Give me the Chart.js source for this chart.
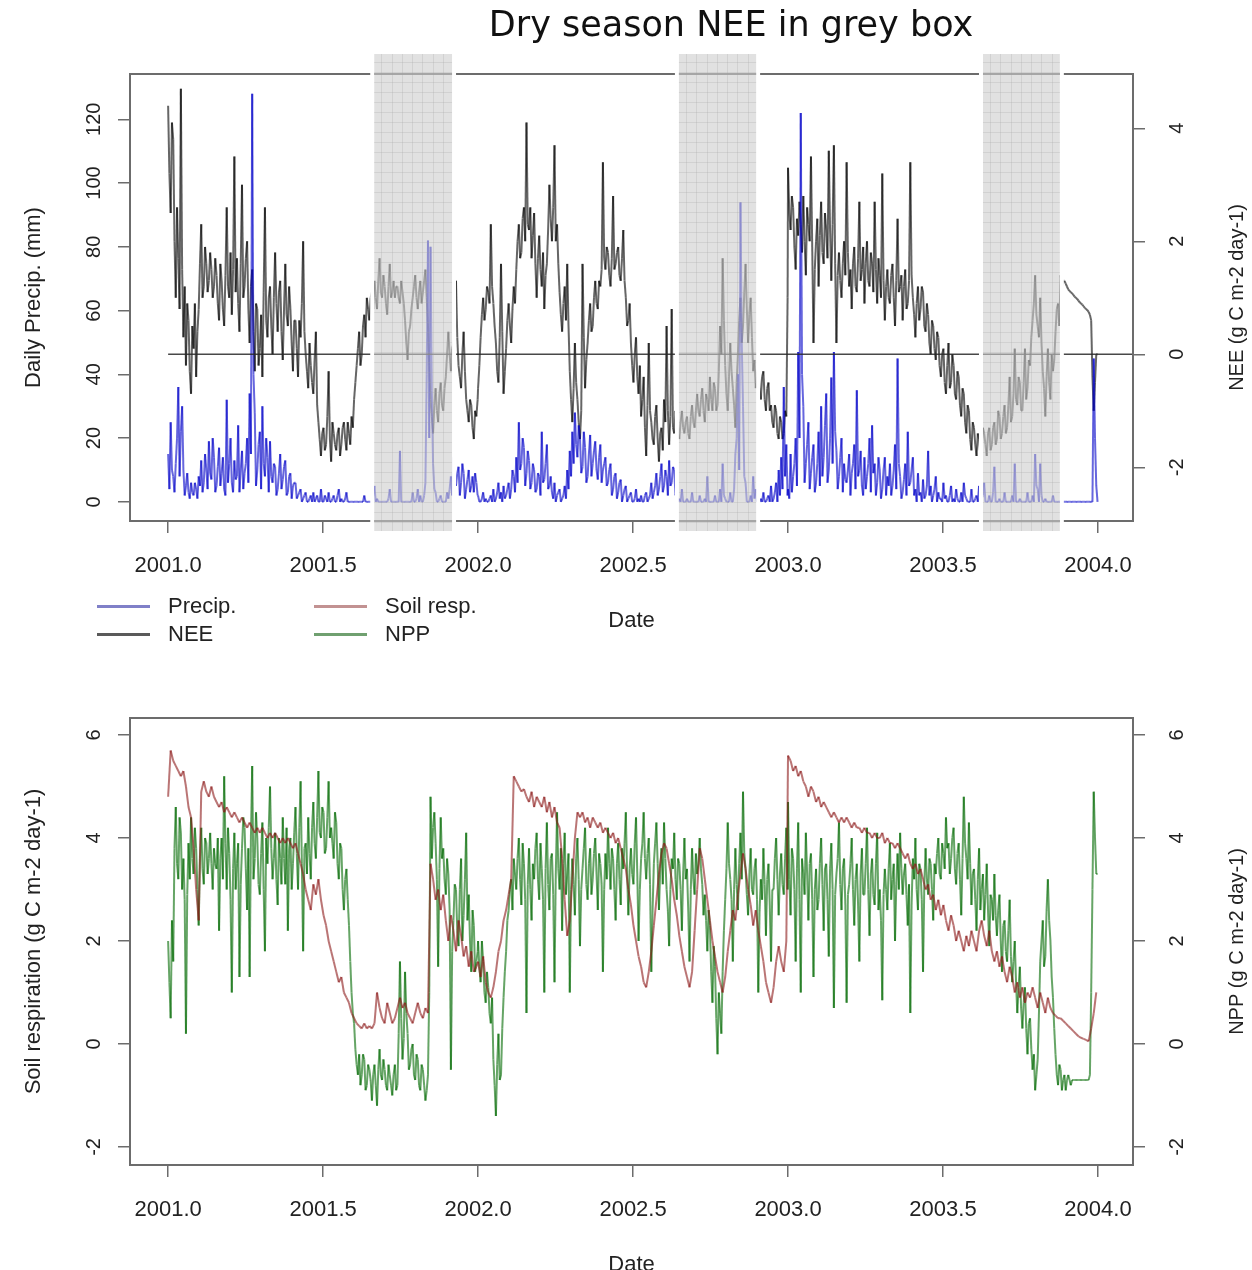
<!DOCTYPE html>
<html>
<head>
<meta charset="utf-8">
<title>Dry season NEE</title>
<script src="https://cdn.jsdelivr.net/npm/chart.js@4.4.1/dist/chart.umd.min.js"></script>
<style>
  html, body { margin: 0; padding: 0; background: #fff; width: 1252px; height: 1270px; overflow: hidden; }
  canvas { position: absolute; left: 0; }
  #topChart { top: 0; }
  #bottomChart { top: 660px; }
  #title {
    position: absolute; left: 431px; top: 4px; width: 600px; text-align: center;
    font: 35px "DejaVu Sans", Verdana, sans-serif; line-height: 40px; color: #111; z-index: 2;
  }
  .leg { position: absolute; font: 22px "Liberation Sans", Arial, sans-serif; color: #222; line-height: 26px; }
  .legLine { position: absolute; width: 53px; height: 3px; }
</style>
</head>
<body>
<div id="title">Dry season NEE in grey box</div>
<canvas id="topChart" width="1252" height="660"></canvas>
<canvas id="bottomChart" width="1252" height="644"></canvas>

<div class="legLine" style="left:97px; top:605px; background:#8080c8"></div>
<div class="leg" style="left:168px; top:593px">Precip.</div>
<div class="legLine" style="left:97px; top:633px; background:#5a5a5a"></div>
<div class="leg" style="left:168px; top:621px">NEE</div>
<div class="legLine" style="left:314px; top:605px; background:#c29292"></div>
<div class="leg" style="left:385px; top:593px">Soil resp.</div>
<div class="legLine" style="left:314px; top:633px; background:#70a070"></div>
<div class="leg" style="left:385px; top:621px">NPP</div>

<script>
// main values every 3 days (one array per year); "Mid" arrays hold the value read
// halfway between two main values, for the noisy daily series
const stepDays = 3;

const precip2001 = [15, 25, 8, 12, 36, 22, 10, 5, 3, 6,
  2, 4, 8, 13, 6, 10, 19, 7, 14, 5,
  17, 9, 4, 32, 12, 6, 13, 8, 3, 16,
  9, 20, 34, 128, 28, 10, 22, 30, 8, 14,
  19, 6, 11, 4, 15, 7, 13, 3, 9, 5,
  6, 2, 4, 1, 3, 0, 2, 3, 1, 0,
  4, 0, 1, 3, 0, 2, 0, 4, 1, 0,
  3, 0, 0, 0, 0, 0, 0, 2, 0, 0,
  0, 5, 1, 0, 0, 0, 0, 4, 0, 0,
  0, 16, 0, 0, 0, 0, 3, 0, 4, 2,
  0, 6, 82, 80, 12, 3, 0, 2, 0, 0,
  1, 8, 14, 5, 11, 6, 9, 4, 10, 5,
  3, 6];
const precipMid2001 = [4, 10, 3, 20, 8, 30, 2, 9, 1, 3,
  6, 1, 5, 3, 15, 4, 9, 20, 3, 11,
  5, 14, 2, 6, 20, 3, 7, 24, 10, 4,
  12, 6, 15, 40, 5, 18, 4, 12, 20, 3,
  8, 12, 2, 9, 4, 11, 2, 8, 1, 6,
  1, 3, 0, 2, 0, 1, 0, 0, 2, 0,
  0, 2, 0, 0, 1, 0, 2, 0, 0, 1,
  0, 0, 0, 0, 0, 0, 0, 0, 0, 0,
  2, 0, 0, 0, 0, 0, 1, 0, 0, 0,
  0, 0, 0, 0, 0, 0, 0, 1, 0, 0,
  2, 40, 20, 35, 4, 0, 1, 0, 0, 3,
  4, 2, 6, 9, 2, 12, 1, 7, 3, 8,
  9, 2];
const precip2002 = [2, 0, 3, 1, 0, 2, 4, 1, 6, 3,
  5, 2, 6, 4, 8, 14, 25, 12, 17, 9,
  13, 6, 10, 4, 8, 22, 7, 18, 5, 3,
  6, 2, 4, 1, 5, 10, 16, 22, 28, 14,
  20, 11, 17, 8, 21, 12, 19, 7, 18, 10,
  14, 6, 12, 4, 9, 3, 7, 2, 5, 1,
  3, 0, 4, 1, 2, 0, 3, 1, 6, 3,
  9, 4, 12, 5, 8, 13, 6, 10, 3, 1,
  4, 0, 1, 0, 3, 0, 0, 2, 0, 1,
  8, 0, 0, 2, 0, 4, 12, 1, 0, 3,
  0, 15, 40, 94, 30, 6, 0, 2, 8, 4,
  2, 1, 3, 0, 2, 5, 1, 6, 10, 14,
  36, 18];
const precipMid2002 = [0, 1, 0, 0, 1, 0, 0, 3, 1, 0,
  1, 4, 1, 10, 3, 6, 10, 20, 5, 16,
  4, 12, 3, 9, 2, 6, 12, 4, 8, 1,
  0, 3, 0, 2, 1, 4, 8, 12, 18, 24,
  9, 22, 6, 15, 8, 16, 10, 14, 6, 12,
  5, 10, 2, 8, 1, 6, 0, 4, 0, 2,
  0, 1, 0, 0, 0, 2, 0, 2, 1, 5,
  2, 8, 3, 10, 2, 5, 11, 2, 0, 0,
  0, 0, 0, 0, 0, 0, 0, 0, 0, 0,
  0, 0, 0, 0, 0, 0, 2, 0, 0, 0,
  4, 20, 10, 50, 8, 0, 0, 0, 1, 0,
  0, 0, 0, 1, 0, 0, 3, 0, 2, 4,
  8, 2];
const precip2003 = [4, 15, 8, 20, 47, 122, 30, 12, 25, 9,
  18, 6, 22, 30, 14, 34, 10, 39, 47, 16,
  8, 20, 12, 6, 15, 9, 18, 35, 10, 5,
  14, 8, 20, 24, 12, 6, 10, 4, 14, 8,
  12, 5, 18, 45, 8, 3, 12, 22, 6, 14,
  4, 9, 3, 7, 2, 16, 5, 2, 8, 3,
  1, 6, 2, 0, 5, 1, 4, 0, 3, 6,
  1, 0, 4, 0, 2, 5, 1, 6, 0, 2,
  0, 11, 0, 1, 0, 3, 0, 0, 2, 12,
  0, 1, 0, 0, 3, 0, 2, 15, 4, 12,
  0, 1, 0, 0, 2, 0, 0, 0, 0, 0,
  0, 0, 0, 0, 0, 0, 0, 0, 0, 0,
  45, 5];
const precipMid2003 = [1, 3, 12, 5, 20, 40, 6, 18, 4, 14,
  3, 12, 5, 8, 24, 6, 20, 12, 22, 4,
  14, 3, 7, 10, 2, 12, 4, 8, 16, 2,
  4, 12, 3, 9, 2, 14, 1, 10, 2, 5,
  2, 10, 4, 12, 1, 7, 2, 5, 10, 2,
  0, 2, 0, 1, 5, 2, 0, 4, 0, 1,
  0, 1, 0, 2, 0, 0, 1, 0, 0, 2,
  0, 0, 0, 1, 0, 0, 2, 0, 0, 0,
  3, 0, 0, 0, 0, 0, 0, 0, 0, 0,
  0, 0, 0, 0, 0, 0, 0, 5, 0, 2,
  0, 0, 0, 0, 0, 0, 0, 0, 0, 0,
  0, 0, 0, 0, 0, 0, 0, 0, 0, 0,
  20, 0];

const nee2001 = [4.4, 2.5, 3.8, 1.0, 1.7, 4.7, 0.3, -0.2, 0.6, -0.7,
  0.1, -0.4, 0.8, 2.3, 1.2, 1.6, 1.3, 1.5, 1.2, 1.4,
  0.6, 1.3, 0.5, 2.6, 1.0, 0.7, 3.5, 1.7, 0.4, 3.0,
  1.2, 2.0, 0.2, 1.5, -0.3, 0.8, 0.1, -0.4, 2.6, 0.3,
  1.2, 0.0, 1.8, 0.4, 1.3, -0.1, 1.6, 0.5, 0.8, -0.3,
  0.6, -0.4, 0.3, 2.0, 0.0, -0.6, -0.2, -0.7, 0.4, -1.2,
  -1.8, -1.3, -1.6, -0.3, -1.9, -1.4, -1.7, -1.3, -1.6, -1.2,
  -1.7, -1.4, -1.1, -0.8, -0.2, 0.4, 0.0, 0.7, 1.0, 0.6,
  1.1, 1.3, 0.8, 1.7, 1.0, 1.2, 0.7, 1.6, 1.1, 1.0,
  1.2, 0.9, 1.1, 0.6, -0.1, 0.5, 1.0, 1.4, 0.8, 1.3,
  1.1, 1.5, 0.5, -0.8, -1.4, -0.6, -1.2, -0.5, -1.0, -0.4,
  0.4, -0.3, 0.2, 1.3, -0.2, -0.6, 0.4, -0.8, -1.2, -0.9,
  -1.5, -1.1];
const neeMid2001 = [3.2, 4.1, 2.0, 2.6, 0.8, 1.5, 1.2, 0.9, -0.3, 0.5,
  0.9, 0.4, 1.6, 1.0, 1.9, 1.1, 1.8, 1.0, 1.7, 0.9,
  1.6, 0.8, 1.4, 1.2, 1.8, 1.5, 1.1, 0.9, 1.6, 1.0,
  1.7, 0.8, 1.2, 0.4, 0.9, -0.2, 0.7, 1.1, 0.6, 1.0,
  0.5, 1.0, 0.9, 1.1, 0.4, 0.8, 0.7, 1.2, 0.2, 0.6,
  0.1, 0.6, 0.9, 0.4, -0.3, 0.2, -0.5, -0.1, -0.9, -1.5,
  -1.4, -1.7, -1.1, -1.5, -1.2, -1.6, -1.4, -1.8, -1.3, -1.5,
  -1.2, -1.6, -1.3, -0.5, 0.1, -0.2, 0.5, 0.3, 0.8, 1.0,
  0.8, 1.0, 1.3, 1.1, 1.4, 0.9, 1.2, 1.0, 1.3, 1.2,
  1.0, 1.3, 0.9, 0.2, 0.4, 0.8, 1.2, 1.0, 1.1, 0.9,
  1.3, 1.0, -0.2, -1.1, -0.9, -1.0, -0.7, -0.9, -0.6, 0.0,
  0.0, 0.1, 0.5, 0.3, -0.4, 0.0, -0.3, -1.0, -0.8, -1.3,
  -1.0, -0.8];
const nee2002 = [-0.6, 0.3, 1.0, 0.8, 1.1, 2.3, 0.9, 0.2, -0.5, 1.6,
  -0.7, 0.1, 0.9, 0.2, 1.2, 1.5, 2.3, 1.8, 2.6, 4.1,
  2.2, 1.7, 2.5, 1.0, 2.1, 1.2, 0.8, 1.6, 3.0, 2.0,
  3.7, 2.3, 1.1, 0.4, 1.2, 1.6, -0.3, -1.2, 0.2, -0.8,
  -1.5, 1.6, -0.6, 0.2, 0.9, 0.5, 1.3, 0.8, 1.2, 3.4,
  1.5, 1.8, 1.2, 2.8, 1.6, 1.9, 1.3, 2.2, 1.0, 0.6,
  0.2, -0.5, 0.3, -0.7, -1.1, -0.4, -1.8, 0.2, -1.2, -1.6,
  -0.9, -1.9, -1.3, -0.8, 0.5, -1.6, 0.8, -1.4, -1.2, -1.5,
  -1.0, -1.4, -1.1, -1.5, -0.9, -1.3, -0.7, -1.1, -0.6, -1.2,
  -0.8, -0.4, -1.0, -0.6, -0.9, 0.5, 1.7, -0.2, -1.0, 0.2,
  -0.6, -1.3, 0.0, 1.0, 0.5, 1.6, 0.2, 1.0, -0.3, -0.6,
  -0.2, -0.8, -0.3, -1.0, -0.5, -0.9, -1.3, -1.0, -1.5, -1.2,
  -1.4, -1.1];
const neeMid2002 = [-0.2, 0.7, 0.6, 1.2, 0.9, 1.2, 0.5, -0.3, 0.3, 0.4,
  -0.3, 0.6, 0.5, 0.8, 0.9, 2.0, 1.7, 2.4, 2.0, 2.3,
  2.6, 2.1, 1.6, 1.7, 1.5, 1.8, 1.4, 2.2, 2.4, 2.6,
  2.0, 1.6, 0.7, 0.9, 0.6, 0.5, -0.8, -0.6, -0.5, -1.2,
  -1.0, 0.3, -0.1, 0.6, 0.4, 1.0, 0.9, 1.3, 1.5, 1.7,
  1.9, 1.4, 1.7, 1.5, 1.8, 1.4, 1.7, 1.3, 0.5, 0.9,
  -0.2, 0.0, -0.4, -0.2, -0.8, -1.3, -0.9, -1.0, -1.5, -1.1,
  -1.5, -1.4, -1.7, -1.2, -1.0, -1.1, -1.3, -1.0, -1.4, -1.2,
  -1.3, -1.2, -1.4, -1.1, -1.2, -1.0, -1.0, -0.8, -1.0, -0.7,
  -1.0, -0.8, -0.5, -1.0, -0.3, 0.0, 0.6, -0.7, -0.4, -0.3,
  -0.9, -0.5, 0.6, 0.2, 1.1, 0.8, 0.7, 0.3, -0.1, -0.4,
  -0.6, -0.4, -0.8, -0.6, -1.0, -1.2, -0.9, -1.4, -1.1, -1.5,
  -1.0, 1.0];
const nee2003 = [3.3, 2.2, 2.6, 1.5, 2.1, 2.3, 2.8, 1.4, 2.3, 3.5,
  0.2, 2.0, 1.2, 2.7, 1.6, 2.2, 3.6, 1.3, 3.7, 0.2,
  1.8, 1.0, 2.0, 3.4, 1.2, 0.8, 1.9, 1.1, 2.7, 1.5,
  0.9, 2.0, 1.2, 1.6, 2.7, 0.9, 1.4, 3.2, 0.6, 1.5,
  0.9, 1.6, 0.5, 2.4, 1.2, 0.6, 1.5, 0.9, 3.4, 1.0,
  0.3, 1.2, 0.8, 1.1, 0.4, 0.7, 0.0, 0.5, -0.1, 0.3,
  -0.4, 0.1, -0.7, 0.2, -0.5, -0.2, -0.8, -0.4, -1.1, -0.7,
  -1.4, -1.0, -1.7, -1.3, -1.8, -1.5, -1.7, -1.4, -1.8, -1.3,
  -1.6, -1.2, -1.5, -1.1, -1.4, -0.9, -1.3, -0.4, -1.1, 0.1,
  -0.9, -0.5, -1.0, 0.1, -0.6, -0.2, 0.6, 1.4, 0.5, 1.0,
  -0.3, -1.1, 0.1, -0.8, -0.3, 0.4, 0.9, 1.4, 1.3, 1.25,
  1.15, 1.1, 1.05, 1.0, 0.95, 0.9, 0.85, 0.8, 0.75, 0.6,
  -1.0, 0.0];
const neeMid2003 = [2.5, 2.8, 1.9, 2.4, 2.7, 1.8, 2.0, 2.6, 2.0, 1.9,
  1.5, 2.4, 2.1, 1.8, 2.5, 1.7, 2.2, 2.3, 1.6, 1.4,
  1.3, 1.6, 1.4, 1.8, 1.5, 1.6, 1.2, 1.7, 1.3, 1.9,
  1.6, 1.3, 1.8, 1.1, 1.5, 1.7, 1.0, 1.3, 1.2, 1.0,
  1.4, 1.0, 1.3, 1.1, 1.4, 1.2, 0.8, 1.3, 1.4, 0.7,
  0.9, 0.6, 1.2, 0.5, 0.9, 0.2, 0.6, 0.1, 0.4, -0.2,
  0.0, -0.5, -0.2, -0.6, 0.0, -0.7, -0.3, -0.9, -0.6, -1.2,
  -0.9, -1.5, -1.2, -1.6, -1.4, -1.8, -1.3, -1.6, -1.4, -1.7,
  -1.3, -1.6, -1.0, -1.5, -1.1, -1.4, -0.9, -1.2, -0.7, -0.8,
  -0.4, -1.0, -0.5, -0.8, -0.1, 0.3, 0.9, 0.7, 0.3, 0.2,
  -0.6, -0.4, -0.5, 0.0, -0.1, 0.8, 0.5, 1.2, 1.3, 1.2,
  1.12, 1.08, 1.02, 0.98, 0.92, 0.88, 0.82, 0.78, 0.7, -0.4,
  -0.5, 0.0];

const soil2001 = [4.8, 5.7, 5.5, 5.4, 5.3, 5.2, 5.3, 5.0, 4.6, 4.4,
  3.8, 3.0, 2.4, 4.9, 5.1, 4.9, 4.8, 5.0, 4.8, 4.7,
  4.6, 4.7, 4.5, 4.6, 4.5, 4.4, 4.5, 4.4, 4.3, 4.4,
  4.3, 4.2, 4.3, 4.2, 4.1, 4.2, 4.1, 4.2, 4.1, 4.0,
  4.1, 4.0, 4.1, 4.0, 3.9, 4.0, 3.9, 4.0, 3.9, 3.8,
  3.9, 3.7, 3.5, 3.3, 3.0, 2.8, 2.6, 3.1, 2.9, 3.2,
  2.8, 2.5, 2.3, 2.0, 1.8, 1.6, 1.4, 1.2, 1.3, 1.0,
  0.9, 0.8, 0.6, 0.5, 0.4, 0.35, 0.3, 0.4, 0.3, 0.35,
  0.3, 0.4, 1.0, 0.7, 0.5, 0.4, 0.8, 0.6, 0.4, 0.5,
  0.7, 0.9, 0.7, 0.8, 0.6, 0.5, 0.4, 0.6, 0.8, 0.6,
  0.5, 0.7, 0.6, 3.5, 3.2, 2.8, 3.0, 2.6, 2.9, 2.4,
  2.0, 2.5, 2.2, 1.8, 2.4, 2.1, 1.7, 1.9, 1.5, 1.8,
  1.4, 1.5];
const soil2002 = [1.6, 1.3, 1.7, 1.2, 1.0, 0.9, 1.1, 1.4, 1.8, 2.0,
  2.4, 2.6, 2.9, 3.2, 5.2, 5.1, 5.0, 4.9, 4.95, 4.8,
  4.7, 4.9, 4.6, 4.8, 4.7, 4.6, 4.8, 4.5, 4.7, 4.4,
  4.6, 4.3, 4.2, 3.6, 2.8, 2.1, 2.4, 3.2, 4.0, 4.5,
  4.4, 4.5, 4.3, 4.4, 4.2, 4.4, 4.3, 4.2, 4.3, 4.1,
  4.2, 4.1, 4.0, 4.1, 3.9, 4.0, 3.8, 3.6, 3.4, 3.0,
  2.7, 2.3, 2.0, 1.7, 1.5, 1.2, 1.1, 1.4, 1.8, 2.3,
  2.8, 3.3, 3.7, 3.9, 3.8, 3.5, 3.2, 2.8, 2.5, 2.1,
  1.8, 1.5, 1.3, 1.1, 1.4, 2.2, 3.0, 3.8, 3.6, 3.2,
  2.8, 2.4, 2.0, 1.7, 1.4, 1.2, 1.0, 1.3, 1.8, 2.2,
  2.6, 2.4, 2.9, 3.3, 3.7, 3.4, 3.0, 2.7, 2.3, 2.6,
  2.2, 1.9, 1.6, 1.2, 1.0, 0.8, 1.1, 1.6, 1.9, 1.6,
  1.4, 2.0];
const soil2003 = [5.6, 5.5, 5.3, 5.4, 5.2, 5.3, 5.1, 5.0, 4.8, 5.0,
  4.9, 4.7, 4.8, 4.6, 4.7, 4.6, 4.5, 4.4, 4.5, 4.4,
  4.3, 4.4, 4.3, 4.4, 4.3, 4.2, 4.3, 4.2, 4.2, 4.1,
  4.2, 4.1, 4.1, 4.0, 4.1, 4.0, 4.0, 4.1, 3.9, 4.0,
  3.9, 3.9, 3.8, 3.9, 3.8, 3.7, 3.6, 3.7, 3.5, 3.4,
  3.5, 3.3, 3.4, 3.2, 3.0, 3.1, 2.8, 2.9, 2.6, 2.8,
  2.5, 2.7, 2.4, 2.2, 2.5, 2.3, 2.0, 2.2, 2.0, 1.8,
  2.1, 1.9, 2.2, 2.0, 1.8, 2.2, 2.4, 2.1, 1.9, 2.2,
  1.8, 1.6, 1.8, 1.5, 1.7, 1.4, 1.2, 1.5, 1.3, 1.0,
  1.2, 0.9, 1.1, 0.8, 1.0, 0.9, 1.1, 0.9, 0.7, 1.0,
  0.8, 0.6, 0.9, 0.7, 0.6, 0.55, 0.5, 0.5, 0.45, 0.4,
  0.35, 0.3, 0.25, 0.2, 0.15, 0.12, 0.1, 0.08, 0.05, 0.3,
  0.6, 1.0];

const npp2001 = [2.0, 0.5, 1.6, 4.6, 3.2, 4.1, 3.6, 0.2, 3.9, 4.4,
  3.3, 3.8, 2.3, 4.2, 3.1, 3.9, 3.6, 3.5, 3.8, 3.4,
  2.2, 4.0, 5.2, 3.0, 3.7, 1.0, 4.1, 3.5, 1.3, 3.8,
  4.2, 2.6, 1.3, 5.4, 3.6, 4.0, 2.9, 4.3, 1.8, 3.5,
  5.0, 3.2, 4.1, 2.7, 3.6, 4.4, 3.1, 2.2, 4.0, 3.5,
  4.6, 3.0, 5.1, 1.8, 3.9, 4.4, 3.2, 4.7, 3.6, 5.3,
  4.0, 4.5, 3.8, 5.1, 4.2, 3.6, 4.3, 3.2, 3.8, 2.6,
  3.4, 2.3, 1.0, 0.4, -0.4, -0.2, -0.6, -0.3, -0.8, -0.5,
  -1.1, -0.4, -1.2, -0.1, -0.7, -0.5, -0.9, -0.6, -1.0, -0.4,
  -0.8, 1.6, -0.3, 1.4, 0.2, -0.4, 0.0, -0.7, -0.3, -0.9,
  -0.5, -1.1, -0.6, 4.8, 4.2, 3.9, 1.5, 4.4, 3.8, 2.9,
  3.3, -0.5, 2.4, 3.0, 1.9, 3.6, 2.5, 4.1, 2.9, 1.4,
  2.3, 1.6];
const nppMid2001 = [1.2, 2.4, 3.8, 3.5, 4.4, 3.0, 2.8, 2.9, 3.2, 3.6,
  4.2, 3.0, 3.6, 3.4, 4.0, 3.3, 4.1, 3.0, 3.5, 4.0,
  3.6, 3.2, 3.9, 4.2, 2.8, 3.4, 3.0, 3.9, 3.1, 4.4,
  3.4, 3.8, 4.0, 3.2, 4.5, 3.1, 3.7, 3.0, 4.0, 4.2,
  3.8, 3.6, 3.2, 4.0, 3.1, 3.6, 4.2, 3.8, 3.0, 4.1,
  3.7, 4.2, 3.5, 3.8, 3.3, 3.7, 4.2, 3.9, 4.4, 4.1,
  4.6, 3.7, 4.4, 4.0, 3.9, 4.5, 3.5, 3.9, 3.0, 3.2,
  2.8, 1.6, 0.6, -0.1, -0.6, -0.8, -0.2, -0.9, -0.4, -0.7,
  -0.6, -0.8, -0.5, -0.6, -0.3, -0.8, -0.4, -0.8, -0.6, -0.9,
  0.2, 0.5, 0.1, 0.6, -0.5, -0.1, -0.6, -0.2, -0.8, -0.4,
  -0.8, -0.9, 1.0, 3.6, 4.5, 3.2, 3.4, 3.6, 3.2, 3.6,
  2.6, 1.8, 3.1, 2.2, 3.0, 2.0, 3.2, 2.4, 2.0, 2.6,
  1.4, 1.8];
const npp2002 = [2.0, 1.2, 1.6, 0.8, 1.1, 0.4, -0.3, -1.4, 0.2, -0.6,
  0.9, 1.8, 2.6, 3.2, 3.6, 3.0, 4.0, 2.7, 3.5, 0.6,
  3.8, 2.4, 3.2, 4.1, 2.8, 3.4, 1.0, 4.3, 2.6, 3.7,
  1.2, 4.5, 3.0, 2.2, 4.1, 3.3, 1.0, 3.6, 2.5, 4.0,
  1.9, 3.4, 4.2, 2.8, 3.8, 3.2, 4.0, 2.6, 3.5, 1.4,
  3.7, 4.2, 3.0, 3.6, 2.4, 3.9, 2.7, 3.4, 4.5, 2.5,
  3.8, 3.1, 4.4, 2.0, 3.6, 4.5, 3.2, 4.0, 1.4, 3.5,
  4.3, 2.6, 3.8, 4.3, 3.0, 1.9, 3.6, 4.1, 2.8, 3.5,
  2.2, 4.0, 3.4, 1.6, 3.8, 2.9, 3.3, 4.0, 3.1, 2.9,
  1.8, 2.3, 0.8, 1.5, -0.2, 0.6, 1.4, 2.8, 4.3, 3.2,
  1.6, 3.8, 2.6, 4.1, 4.9, 3.4, 2.5, 3.8, 2.9, 3.6,
  1.0, 3.2, 3.8, 2.1, 3.5, 1.6, 3.0, 4.0, 2.5, 3.7,
  2.9, 4.2];
const nppMid2002 = [1.5, 2.0, 1.0, 1.4, 0.6, 0.9, -0.8, -0.4, -0.7, 0.3,
  1.4, 2.4, 3.0, 2.6, 3.3, 3.6, 3.2, 3.9, 2.8, 3.1,
  3.0, 3.5, 3.8, 3.2, 3.9, 2.8, 3.4, 3.1, 3.6, 2.9,
  3.3, 3.4, 3.8, 3.5, 2.9, 3.7, 3.0, 3.1, 3.6, 3.2,
  3.0, 3.8, 3.1, 3.5, 2.9, 3.7, 3.3, 3.7, 3.1, 3.0,
  3.2, 3.5, 3.8, 3.0, 3.5, 3.2, 3.8, 3.9, 3.3, 3.4,
  3.3, 3.9, 3.3, 3.0, 3.9, 3.6, 3.7, 3.1, 2.6, 3.9,
  3.5, 3.4, 3.1, 3.6, 2.6, 3.0, 3.4, 3.2, 3.6, 3.0,
  3.3, 3.2, 2.6, 3.0, 3.2, 3.7, 3.5, 3.4, 2.5, 2.4,
  2.6, 1.4, 1.9, 0.5, 1.0, 0.2, 2.2, 3.4, 3.5, 2.8,
  3.0, 3.1, 3.5, 3.2, 3.7, 2.9, 3.3, 3.0, 3.4, 2.8,
  2.6, 2.8, 3.1, 3.2, 2.7, 3.0, 3.6, 3.2, 3.3, 3.1,
  3.6, 3.0];
const npp2003 = [4.7, 2.5, 3.6, 1.6, 4.3, 1.0, 3.3, 4.1, 2.4, 3.7,
  1.3, 3.4, 2.8, 4.0, 2.2, 3.5, 1.7, 3.9, 0.7, 3.3,
  4.3, 2.6, 3.6, 0.8, 3.1, 4.0, 2.3, 3.5, 1.6, 3.8,
  2.9, 4.2, 2.1, 3.6, 2.7, 4.1, 3.0, 0.85, 3.4, 2.6,
  3.9, 3.2, 2.0, 3.7, 4.1, 2.9, 3.5, 2.3, 0.6, 3.6,
  4.0, 2.6, 3.4, 1.4, 3.8, 2.9, 3.5, 2.4, 3.3, 4.0,
  3.2, 3.7, 4.4, 3.9, 3.6, 4.2, 3.1, 3.9, 2.5, 4.8,
  3.6, 4.3, 2.7, 3.4, 2.2, 3.8, 3.0, 2.4, 3.5, 1.9,
  2.8, 3.3, 2.1, 2.9, 1.4, 2.4, 1.6, 2.8, 1.2, 2.0,
  0.6, 1.5, 0.3, 1.1, -0.2, 0.5, -0.5, -0.9, -0.3, 1.6,
  2.4, 1.7, 3.2, 2.0, 0.9, -0.2, -0.8, -0.5, -0.7, -0.9,
  -0.6, -0.8, -0.7, -0.7, -0.7, -0.7, -0.7, -0.7, -0.7, 1.0,
  4.9, 3.3];
const nppMid2003 = [3.2, 3.8, 3.0, 3.4, 2.8, 3.6, 2.9, 3.3, 3.5, 2.8,
  3.0, 2.6, 3.5, 3.1, 3.4, 2.8, 3.4, 3.0, 2.9, 3.6,
  3.1, 3.4, 2.7, 2.9, 3.5, 3.0, 3.2, 2.7, 3.3, 2.9,
  3.5, 3.0, 3.3, 2.9, 3.5, 2.6, 2.4, 2.9, 3.0, 3.4,
  2.8, 3.5, 3.1, 3.0, 3.4, 3.3, 2.9, 3.1, 2.7, 3.2,
  3.0, 3.5, 2.8, 3.1, 3.2, 3.6, 3.0, 3.5, 3.7, 3.3,
  3.9, 3.4, 3.8, 3.3, 4.0, 3.4, 3.7, 3.2, 3.6, 3.9,
  3.2, 3.5, 3.3, 2.8, 3.2, 2.6, 3.3, 2.9, 2.6, 2.9,
  2.4, 2.5, 2.6, 2.0, 2.3, 1.8, 2.2, 1.7, 1.6, 1.2,
  1.1, 0.7, 0.8, 0.3, 0.4, -0.1, -0.2, -0.6, 0.6, 2.0,
  1.5, 2.6, 2.4, 1.3, 0.3, -0.6, -0.4, -0.9, -0.6, -0.7,
  -0.7, -0.7, -0.7, -0.7, -0.7, -0.7, -0.7, -0.7, -0.6, 3.0,
  4.0, 3.3];

// dry season periods (decimal years)
const dryStarts = [2001.665, 2002.648, 2003.629];
const dryEnds = [2001.916, 2002.897, 2003.877];

// tick labels
const yearTicks = [2001.0, 2001.5, 2002.0, 2002.5, 2003.0, 2003.5, 2004.0];
const precipTicks = [0, 20, 40, 60, 80, 100, 120];
const neeTicks = [-2, 0, 2, 4];
const carbonTicks = [-2, 0, 2, 4, 6];

const FONT = '"Liberation Sans", Arial, Helvetica, sans-serif';
const AXIS_GREY = '#6c6c6c';
const TEXT = '#222';

function toPoints(year, vals, mids) {
  const pts = [];
  vals.forEach((v, i) => {
    pts.push({ x: year + i * stepDays / 365, y: v });
    if (mids && i < mids.length) pts.push({ x: year + (i + 0.5) * stepDays / 365, y: mids[i] });
  });
  return pts;
}

// stroke every segment on its own so overlapping strokes darken, like R's alpha colours
function overlapStroke(color) {
  const alt = color.replace(/,/g, ', ');
  return { borderColor: c => (c.p0DataIndex % 2 ? color : alt) };
}

function lineSet(label, points, color, axis, order, width) {
  return {
    label, data: points, yAxisID: axis, order,
    borderColor: color, borderWidth: width, pointRadius: 0, tension: 0,
    segment: overlapStroke(color)
  };
}

function xAxis() {
  return {
    type: 'linear', position: 'bottom', min: 2000.877, max: 2004.113,
    afterBuildTicks: s => { s.ticks = yearTicks.map(v => ({ value: v })); },
    afterFit: s => { s.height = 139; },
    grid: { drawOnChartArea: false, drawTicks: true, tickLength: 12, color: AXIS_GREY, lineWidth: 1.5 },
    border: { display: false },
    ticks: { font: { family: FONT, size: 22 }, color: TEXT, padding: 20, autoSkip: false, maxRotation: 0,
             callback: v => Number(v).toFixed(1) },
    title: { display: true, text: 'Date', font: { family: FONT, size: 22 }, color: TEXT, padding: { top: 0, bottom: 26 } }
  };
}

function yAxis(pos, min, max, tickVals, width, pad, title) {
  return {
    type: 'linear', position: pos, min, max,
    afterBuildTicks: s => { s.ticks = tickVals.map(v => ({ value: v })); },
    afterFit: s => { s.width = width; },
    grid: { drawOnChartArea: false, drawTicks: true, tickLength: 12, color: AXIS_GREY, lineWidth: 1.5 },
    border: { display: false },
    ticks: { font: { family: FONT, size: 20 }, color: TEXT, padding: pad, autoSkip: false,
             minRotation: 90, maxRotation: 90, crossAlign: 'center' },
    title: title ? { display: true, text: title, font: { family: FONT, size: 22 }, color: TEXT, padding: { top: 21, bottom: 0 } }
                 : { display: false }
  };
}

function drawFrame(chart) {
  const { ctx, chartArea: a } = chart;
  ctx.save();
  ctx.strokeStyle = AXIS_GREY;
  ctx.lineWidth = 2;
  ctx.strokeRect(a.left, a.top, a.right - a.left, a.bottom - a.top);
  ctx.restore();
}

function drawRightTitle(chart, text) {
  const { ctx, chartArea: a } = chart;
  ctx.save();
  ctx.translate(chart.width - 15, (a.top + a.bottom) / 2);
  ctx.rotate(-Math.PI / 2);
  ctx.font = '20px ' + FONT;
  ctx.fillStyle = TEXT;
  ctx.textAlign = 'center';
  ctx.textBaseline = 'middle';
  ctx.fillText(text, 0, 0);
  ctx.restore();
}

function drawDryBoxes(chart) {
  const { ctx, chartArea: a, scales } = chart;
  const top = a.top - 20, bottom = a.bottom + 10;
  ctx.save();
  dryStarts.forEach((start, i) => {
    const x0 = scales.x.getPixelForValue(start);
    const x1 = scales.x.getPixelForValue(dryEnds[i]);
    ctx.fillStyle = '#fff';
    ctx.fillRect(x0 - 4, top, 4, bottom - top);
    ctx.fillRect(x1, top, 4, bottom - top);
    ctx.fillStyle = 'rgba(205,205,205,0.6)';
    ctx.fillRect(x0, top, x1 - x0, bottom - top);
    ctx.strokeStyle = 'rgba(160,160,160,0.25)';
    ctx.lineWidth = 1;
    ctx.beginPath();
    for (let gx = x0 + 7; gx < x1 - 1; gx += 10.3) {
      ctx.moveTo(Math.round(gx) + 0.5, top);
      ctx.lineTo(Math.round(gx) + 0.5, bottom);
    }
    for (let gy = top + 8; gy < bottom - 1; gy += 10) {
      ctx.moveTo(x0, Math.round(gy) + 0.5);
      ctx.lineTo(x1, Math.round(gy) + 0.5);
    }
    ctx.stroke();
  });
  ctx.restore();
}

const topDecor = {
  id: 'topDecor',
  afterDatasetsDraw(chart) {
    const { ctx, chartArea: a, scales } = chart;
    const y0 = scales.y2.getPixelForValue(0);
    ctx.save();
    ctx.strokeStyle = 'rgba(40,40,40,0.85)';
    ctx.lineWidth = 1.5;
    ctx.beginPath();
    ctx.moveTo(scales.x.getPixelForValue(yearTicks[0]), y0);
    ctx.lineTo(a.right, y0);
    ctx.stroke();
    ctx.restore();
    drawFrame(chart);
    drawDryBoxes(chart);
  },
  afterDraw(chart) { drawRightTitle(chart, 'NEE (g C m-2 day-1)'); }
};

const bottomDecor = {
  id: 'bottomDecor',
  afterDatasetsDraw(chart) { drawFrame(chart); },
  afterDraw(chart) { drawRightTitle(chart, 'NPP (g C m-2 day-1)'); }
};

const common = {
  responsive: false,
  animation: false,
  events: [],
  plugins: { legend: { display: false }, tooltip: { enabled: false } }
};

const precipPts = [...toPoints(2001, precip2001, precipMid2001), ...toPoints(2002, precip2002, precipMid2002), ...toPoints(2003, precip2003, precipMid2003)];
const neePts = [...toPoints(2001, nee2001, neeMid2001), ...toPoints(2002, nee2002, neeMid2002), ...toPoints(2003, nee2003, neeMid2003)];
const soilPts = [...toPoints(2001, soil2001), ...toPoints(2002, soil2002), ...toPoints(2003, soil2003)];
const nppPts = [...toPoints(2001, npp2001, nppMid2001), ...toPoints(2002, npp2002, nppMid2002), ...toPoints(2003, npp2003, nppMid2003)];

new Chart(document.getElementById('topChart').getContext('2d'), {
  type: 'line',
  data: {
    datasets: [
      lineSet('Precip.', precipPts, 'rgba(0,0,200,0.6)', 'y', 0, 2),
      lineSet('NEE', neePts, 'rgba(0,0,0,0.6)', 'y2', 1, 2)
    ]
  },
  options: {
    ...common,
    layout: { padding: { top: 74, left: 0, right: 0, bottom: 0 } },
    scales: {
      x: xAxis(),
      y: yAxis('left', -6, 134.2, precipTicks, 130, 7, 'Daily Precip. (mm)'),
      y2: yAxis('right', -2.95, 4.96, neeTicks, 119, 24, null)
    }
  },
  plugins: [topDecor]
});

new Chart(document.getElementById('bottomChart').getContext('2d'), {
  type: 'line',
  data: {
    datasets: [
      lineSet('Soil resp.', soilPts, 'rgba(140,25,25,0.6)', 'y', 0, 2),
      lineSet('NPP', nppPts, 'rgba(0,105,0,0.6)', 'y2', 1, 2)
    ]
  },
  options: {
    ...common,
    layout: { padding: { top: 58, left: 0, right: 0, bottom: 0 } },
    scales: {
      x: xAxis(),
      y: yAxis('left', -2.35, 6.33, carbonTicks, 130, 15, 'Soil respiration (g C m-2 day-1)'),
      y2: yAxis('right', -2.35, 6.33, carbonTicks, 119, 24, null)
    }
  },
  plugins: [bottomDecor]
});
</script>
</body>
</html>
